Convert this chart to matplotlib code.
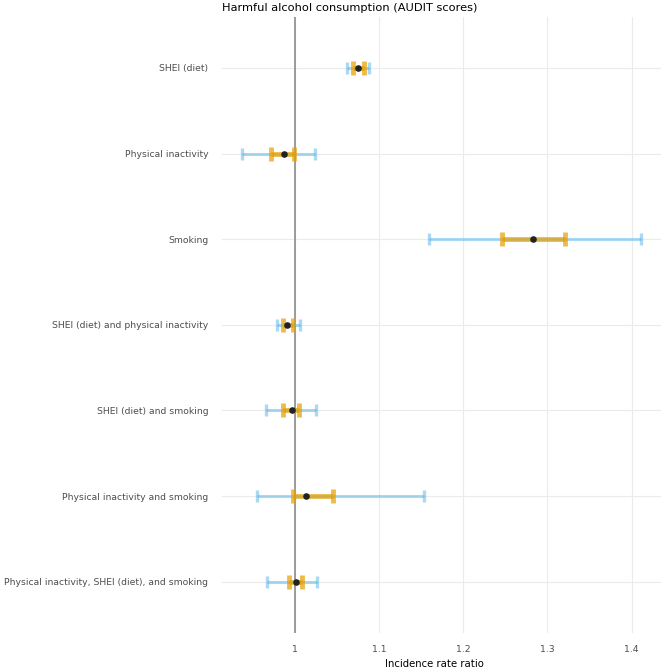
import matplotlib
matplotlib.use("Agg")
import matplotlib.pyplot as plt

# Dados (razão de taxas de incidência)
rotulos = ["SHEI (diet)", "Physical inactivity", "Smoking",
           "SHEI (diet) and physical inactivity", "SHEI (diet) and smoking",
           "Physical inactivity and smoking",
           "Physical inactivity, SHEI (diet), and smoking"]
estimativa = [1.0755, 0.9873, 1.283, 0.9912, 0.9964, 1.0134, 1.0015]
ic95_inf = [1.0618, 0.9374, 1.160, 0.9786, 0.9659, 0.9556, 0.9675]
ic95_sup = [1.0886, 1.0245, 1.411, 1.0063, 1.0253, 1.1536, 1.0261]
ic50_inf = [1.0689, 0.9715, 1.2462, 0.9865, 0.9865, 0.9976, 0.9936]
ic50_sup = [1.0822, 0.9995, 1.3207, 0.9976, 1.0051, 1.0455, 1.0087]
ticks_x = [1, 1.1, 1.2, 1.3, 1.4]
ticks_rot = ["1", "1.1", "1.2", "1.3", "1.4"]

fig = plt.figure(figsize=(6.61, 6.68), dpi=100)
ax = fig.add_axes([0.3359, 0.0524, 0.6641, 0.9227])

n = len(rotulos)
y = [n - i for i in range(n)]

ax.axvline(1, color="#8c8c8c", lw=1.2, zorder=2)

for i in range(n):
    ax.errorbar(estimativa[i], y[i],
                xerr=[[estimativa[i] - ic95_inf[i]], [ic95_sup[i] - estimativa[i]]],
                fmt="none", ecolor="#56B4E9", alpha=0.5, elinewidth=2.2,
                capsize=4.5, capthick=2.4, zorder=3)
    ax.errorbar(estimativa[i], y[i],
                xerr=[[estimativa[i] - ic50_inf[i]], [ic50_sup[i] - estimativa[i]]],
                fmt="none", ecolor="#E69F00", alpha=0.7, elinewidth=3.5,
                capsize=5, capthick=3.5, zorder=4)
ax.scatter(estimativa, y, s=14, color="#222222", zorder=5)

ax.set_xlim(0.9137, 1.435)
ax.set_ylim(0.4, n + 0.6)
ax.set_xticks(ticks_x)
ax.set_xticklabels(ticks_rot)
ax.set_yticks(y)
ax.set_yticklabels(rotulos)
ax.tick_params(axis="both", length=0, labelsize=6.7, labelcolor="#4d4d4d")
ax.tick_params(axis="y", pad=10)
ax.tick_params(axis="x", pad=9)
ax.grid(True, color="#ebebeb", lw=0.8, zorder=0)
for s in ax.spines.values():
    s.set_visible(False)

ax.set_xlabel("Incidence rate ratio", fontsize=7.3, va="center")
ax.xaxis.set_label_coords(0.485, -0.0503)
ax.set_title("Harmful alcohol consumption (AUDIT scores)", loc="left",
             fontsize=8.2, x=0.0, pad=4)

plt.savefig("out.png", dpi=100)
plt.close()
